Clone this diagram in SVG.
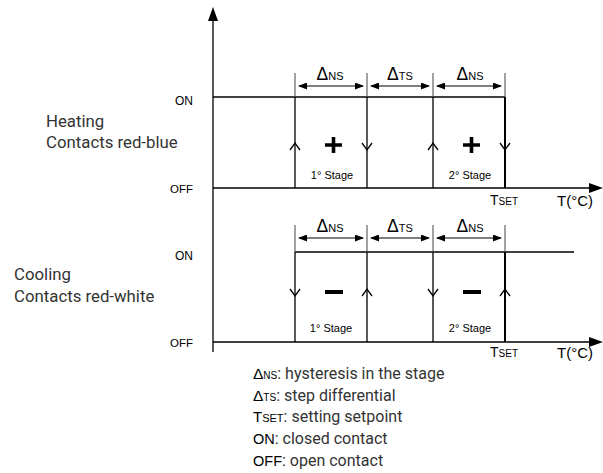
<svg xmlns="http://www.w3.org/2000/svg" width="603" height="473" viewBox="0 0 603 473">
<style>
.ln{stroke:#000;stroke-width:1.3;fill:none}
.ext{stroke:#444;stroke-width:1;fill:none}
.thk{stroke:#000;stroke-width:2;fill:none}
.chev{stroke:#000;stroke-width:1.3;fill:none}
.dim{stroke:#000;stroke-width:1.2;fill:none;marker-start:url(#da);marker-end:url(#da)}
.ar{font-family:"Liberation Sans",Arial,sans-serif;fill:#000}
.lab{font-family:Roboto,"Liberation Sans",sans-serif;fill:#333}
.mid{text-anchor:middle}
.end{text-anchor:end}
</style>
<defs>
<marker id="da" markerWidth="9" markerHeight="7" refX="8" refY="3.5" orient="auto-start-reverse" markerUnits="userSpaceOnUse"><path d="M0,0 L9,3.5 L0,7 z" fill="#000"/></marker>
</defs>
<g id="axes">
<line class="ln" x1="213" y1="18" x2="213" y2="352"/>
<path d="M208,21 L213,7 L218,21 z" fill="#000"/>
<line class="ln" x1="213" y1="188" x2="592" y2="188"/>
<path d="M589,183 L603,188 L589,193 z" fill="#000"/>
<line class="ln" x1="213" y1="342" x2="592" y2="342"/>
<path d="M589,337 L603,342 L589,347 z" fill="#000"/>
</g>
<g id="heating">
<line class="ln" x1="213" y1="97" x2="505" y2="97"/>
<line class="ext" x1="295" y1="73" x2="295" y2="97"/>
<line class="ln" x1="295" y1="97" x2="295" y2="188"/>
<line class="ext" x1="367" y1="73" x2="367" y2="97"/>
<line class="ln" x1="367" y1="97" x2="367" y2="188"/>
<line class="ext" x1="433" y1="73" x2="433" y2="97"/>
<line class="ln" x1="433" y1="97" x2="433" y2="188"/>
<line class="ext" x1="505" y1="73" x2="505" y2="97"/>
<line class="thk" x1="505" y1="97" x2="505" y2="188"/>
<path class="chev" d="M290,150 L295,143 L300,150"/>
<path class="chev" d="M362,143 L367,150 L372,143"/>
<path class="chev" d="M428,150 L433,143 L438,150"/>
<path class="chev" d="M500,143 L505,150 L510,143"/>
<path d="M325,145 H342 M333.5,137 V153" stroke="#000" stroke-width="3.6"/>
<path d="M463,145 H480 M471.5,137 V153" stroke="#000" stroke-width="3.6"/>
<text class="ar mid" x="332" y="179" font-size="11">1° Stage</text>
<text class="ar mid" x="470" y="179" font-size="11">2° Stage</text>
<text class="ar end" x="193" y="105" font-size="12">ON</text>
<text class="ar end" x="193" y="193" font-size="11.5">OFF</text>
<text class="lab" x="46" y="127" font-size="16.8">Heating</text>
<text class="lab" x="46" y="148" font-size="16.8">Contacts red-blue</text>
<text class="ar" x="490" y="205" font-size="14">T<tspan font-size="10">SET</tspan></text>
<text class="ar" x="557" y="206" font-size="15">T(°C)</text>
</g>
<g id="heating-dims">
<line class="dim" x1="299" y1="86" x2="363" y2="86"/>
<line class="dim" x1="371" y1="86" x2="429" y2="86"/>
<line class="dim" x1="437" y1="86" x2="501" y2="86"/>
<text class="ar mid" x="330" y="80" font-size="17.5">Δ<tspan font-size="11">NS</tspan></text>
<text class="ar mid" x="400" y="80" font-size="17.5">Δ<tspan font-size="11">TS</tspan></text>
<text class="ar mid" x="470" y="80" font-size="17.5">Δ<tspan font-size="11">NS</tspan></text>
</g>
<g id="cooling">
<line class="ln" x1="295" y1="252" x2="574" y2="252"/>
<line class="ext" x1="295" y1="225" x2="295" y2="252"/>
<line class="ln" x1="295" y1="252" x2="295" y2="342"/>
<line class="ext" x1="367" y1="225" x2="367" y2="252"/>
<line class="ln" x1="367" y1="252" x2="367" y2="342"/>
<line class="ext" x1="433" y1="225" x2="433" y2="252"/>
<line class="ln" x1="433" y1="252" x2="433" y2="342"/>
<line class="ext" x1="505" y1="225" x2="505" y2="252"/>
<line class="thk" x1="505" y1="252" x2="505" y2="342"/>
<path class="chev" d="M290,289 L295,296 L300,289"/>
<path class="chev" d="M362,296 L367,289 L372,296"/>
<path class="chev" d="M428,289 L433,296 L438,289"/>
<path class="chev" d="M500,296 L505,289 L510,296"/>
<path d="M325,292 H343" stroke="#000" stroke-width="4"/>
<path d="M463,292 H481" stroke="#000" stroke-width="4"/>
<text class="ar mid" x="331" y="332" font-size="11">1° Stage</text>
<text class="ar mid" x="470" y="332" font-size="11">2° Stage</text>
<text class="ar end" x="193" y="260" font-size="12">ON</text>
<text class="ar end" x="193" y="347" font-size="11.5">OFF</text>
<text class="lab" x="14" y="280" font-size="16.8">Cooling</text>
<text class="lab" x="14" y="302" font-size="16.8">Contacts red-white</text>
<text class="ar" x="490" y="357" font-size="14">T<tspan font-size="10">SET</tspan></text>
<text class="ar" x="557" y="358" font-size="15">T(°C)</text>
</g>
<g id="cooling-dims">
<line class="dim" x1="299" y1="238" x2="363" y2="238"/>
<line class="dim" x1="371" y1="238" x2="429" y2="238"/>
<line class="dim" x1="437" y1="238" x2="501" y2="238"/>
<text class="ar mid" x="330" y="232" font-size="17.5">Δ<tspan font-size="11">NS</tspan></text>
<text class="ar mid" x="400" y="232" font-size="17.5">Δ<tspan font-size="11">TS</tspan></text>
<text class="ar mid" x="470" y="232" font-size="17.5">Δ<tspan font-size="11">NS</tspan></text>
</g>
<g id="legend">
<text x="253" y="379"><tspan class="ar" font-size="15.5">Δ</tspan><tspan class="ar" font-size="10">NS</tspan><tspan class="lab" font-size="16">: hysteresis in the stage</tspan></text>
<text x="253" y="400.5"><tspan class="ar" font-size="15.5">Δ</tspan><tspan class="ar" font-size="10">TS</tspan><tspan class="lab" font-size="16">: step differential</tspan></text>
<text x="253" y="422"><tspan class="ar" font-size="15">T</tspan><tspan class="ar" font-size="11">SET</tspan><tspan class="lab" font-size="16">: setting setpoint</tspan></text>
<text x="253" y="444"><tspan class="ar" font-size="14.5">ON</tspan><tspan class="lab" font-size="16">: closed contact</tspan></text>
<text x="253" y="466"><tspan class="ar" font-size="14.5">OFF</tspan><tspan class="lab" font-size="16">: open contact</tspan></text>
</g>
</svg>
